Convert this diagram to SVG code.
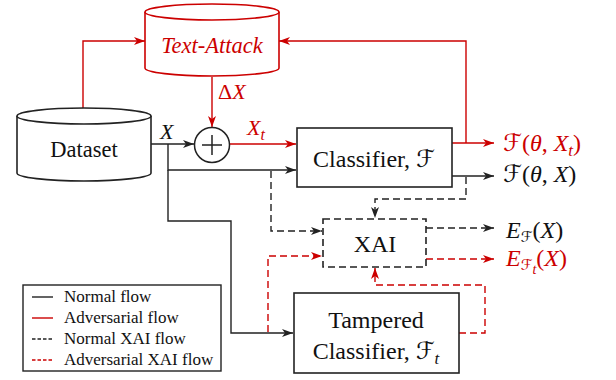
<svg xmlns="http://www.w3.org/2000/svg" width="616" height="380" viewBox="0 0 616 380">
<style>
  .k{stroke:#222;stroke-width:1.4;fill:none}
  .r{stroke:#cc0000;stroke-width:1.4;fill:none}
  .d{stroke-dasharray:7,4}
  .box{fill:#fff;stroke:#222;stroke-width:1.6}
  .rbox{fill:#fff;stroke:#cc0000;stroke-width:1.6}
  text{font-family:'Liberation Serif','Times New Roman',serif;fill:#111}
  .t{font-size:24px}
  .m{font-size:22px}
  .o{font-size:24px}
  .red{fill:#cc0000}
  .it{font-style:italic}
  .scr{font-family:'DejaVu Sans',sans-serif;font-style:normal}
  .lg{font-size:17px}
</style>
<defs>
  <marker id="ak" markerUnits="userSpaceOnUse" markerWidth="12" markerHeight="9" refX="11" refY="4" orient="auto"><path d="M0,0 L11,4 L0,8 L3,4 z" fill="#222"/></marker>
  <marker id="ar" markerUnits="userSpaceOnUse" markerWidth="12" markerHeight="9" refX="11" refY="4" orient="auto"><path d="M0,0 L11,4 L0,8 L3,4 z" fill="#cc0000"/></marker>
</defs>

<g id="connectors">
  <path class="r" d="M83,108 V41 H145" marker-end="url(#ar)"/>
  <path class="r" d="M466,143 V41 H279" marker-end="url(#ar)"/>
  <path class="r" d="M212,77 V127" marker-end="url(#ar)"/>
  <path class="r" d="M230,144 H296" marker-end="url(#ar)"/>
  <path class="r" d="M452,143 H494" marker-end="url(#ar)"/>
  <path class="k" d="M151,144 H194" marker-end="url(#ak)"/>
  <path class="k" d="M168,144 V170 H296" marker-end="url(#ak)"/>
  <path class="k" d="M168,170 V221 H231 V333 H293" marker-end="url(#ak)"/>
  <path class="k" d="M452,176 H494" marker-end="url(#ak)"/>
  <path class="k d" d="M466,177 V199 H375 V218" marker-end="url(#ak)"/>
  <path class="k d" d="M271,171 V231 H322" marker-end="url(#ak)"/>
  <path class="k d" d="M426,228 H494" marker-end="url(#ak)"/>
  <path class="r d" d="M268,332 V256 H322" marker-end="url(#ar)"/>
  <path class="r d" d="M426,259 H494" marker-end="url(#ar)"/>
  <path class="r d" d="M459,333 H485 V285 H375 V268" marker-end="url(#ar)"/>
</g>

<g id="text-attack">
  <path class="rbox" d="M145,12 V68 A67,8 0 0 0 279,68 V12"/>
  <ellipse cx="212" cy="12" rx="67" ry="8" class="rbox"/>
  <text x="212" y="53" text-anchor="middle" class="it red" style="font-family:'Liberation Serif',serif;font-size:22.5px">Text-Attack</text>
</g>

<g id="dataset">
  <path class="box" d="M17,116 V173 A67,8 0 0 0 151,173 V116"/>
  <ellipse cx="84" cy="116" rx="67" ry="8" class="box"/>
  <text x="84" y="157" text-anchor="middle" style="font-family:'Liberation Serif',serif;font-size:22.5px">Dataset</text>
</g>

<g id="plus">
  <circle cx="212" cy="145" r="17.5" fill="#fff" stroke="#222" stroke-width="1.5"/>
  <path d="M202,145 H222 M212,135 V155" stroke="#222" stroke-width="1.5"/>
</g>

<g id="classifier">
  <rect x="297" y="128" width="155" height="59" class="box"/>
  <text x="374" y="167" text-anchor="middle" class="t" style="font-family:'Liberation Serif',serif">Classifier, <tspan class="scr">ℱ</tspan></text>
</g>

<g id="xai">
  <rect x="323" y="219" width="103" height="48" fill="#fff" stroke="#222" stroke-width="1.6" stroke-dasharray="7,4"/>
  <text x="375" y="252" text-anchor="middle" class="t" style="font-family:'Liberation Serif',serif">XAI</text>
</g>

<g id="tampered">
  <rect x="294" y="293" width="165" height="80" class="box"/>
  <text x="376" y="328" text-anchor="middle" class="t" style="font-family:'Liberation Serif',serif">Tampered</text>
  <text x="376" y="359" text-anchor="middle" class="t" style="font-family:'Liberation Serif',serif">Classifier, <tspan class="scr">ℱ</tspan><tspan class="it" font-size="17" dy="5">t</tspan></text>
</g>

<g id="labels">
  <text x="160" y="139" class="m it">X</text>
  <text x="247" y="135" class="m red"><tspan class="it">X</tspan><tspan class="it" font-size="16" dy="5">t</tspan></text>
  <text x="218" y="99" class="m red">Δ<tspan class="it">X</tspan></text>
  <text x="503" y="151" class="o red"><tspan class="scr">ℱ</tspan>(<tspan class="it">θ</tspan>, <tspan class="it">X</tspan><tspan class="it" font-size="17" dy="5">t</tspan><tspan dy="-5">)</tspan></text>
  <text x="503" y="182" class="o"><tspan class="scr">ℱ</tspan>(<tspan class="it">θ</tspan>, <tspan class="it">X</tspan>)</text>
  <text x="506" y="238" class="o"><tspan class="it">E</tspan><tspan class="scr" font-size="15" dy="4">ℱ</tspan><tspan dy="-4">(</tspan><tspan class="it">X</tspan>)</text>
  <text x="506" y="266" class="o red"><tspan class="it">E</tspan><tspan class="scr" font-size="15" dy="4">ℱ</tspan><tspan class="it" font-size="14" dy="4">t</tspan><tspan dy="-8">(</tspan><tspan class="it">X</tspan>)</text>
</g>

<g id="legend">
  <rect x="23" y="285" width="198" height="86" fill="#fff" stroke="#222" stroke-width="1.4"/>
  <path d="M32,297 H53" class="k"/>
  <path d="M32,318 H53" class="r"/>
  <path d="M32,339 H53" class="k" stroke-dasharray="3.5,2"/>
  <path d="M32,360 H53" class="r" stroke-dasharray="3.5,2"/>
  <text x="64" y="302" class="lg">Normal flow</text>
  <text x="64" y="323" class="lg">Adversarial flow</text>
  <text x="64" y="344" class="lg">Normal XAI flow</text>
  <text x="64" y="365" class="lg">Adversarial XAI flow</text>
</g>
</svg>
